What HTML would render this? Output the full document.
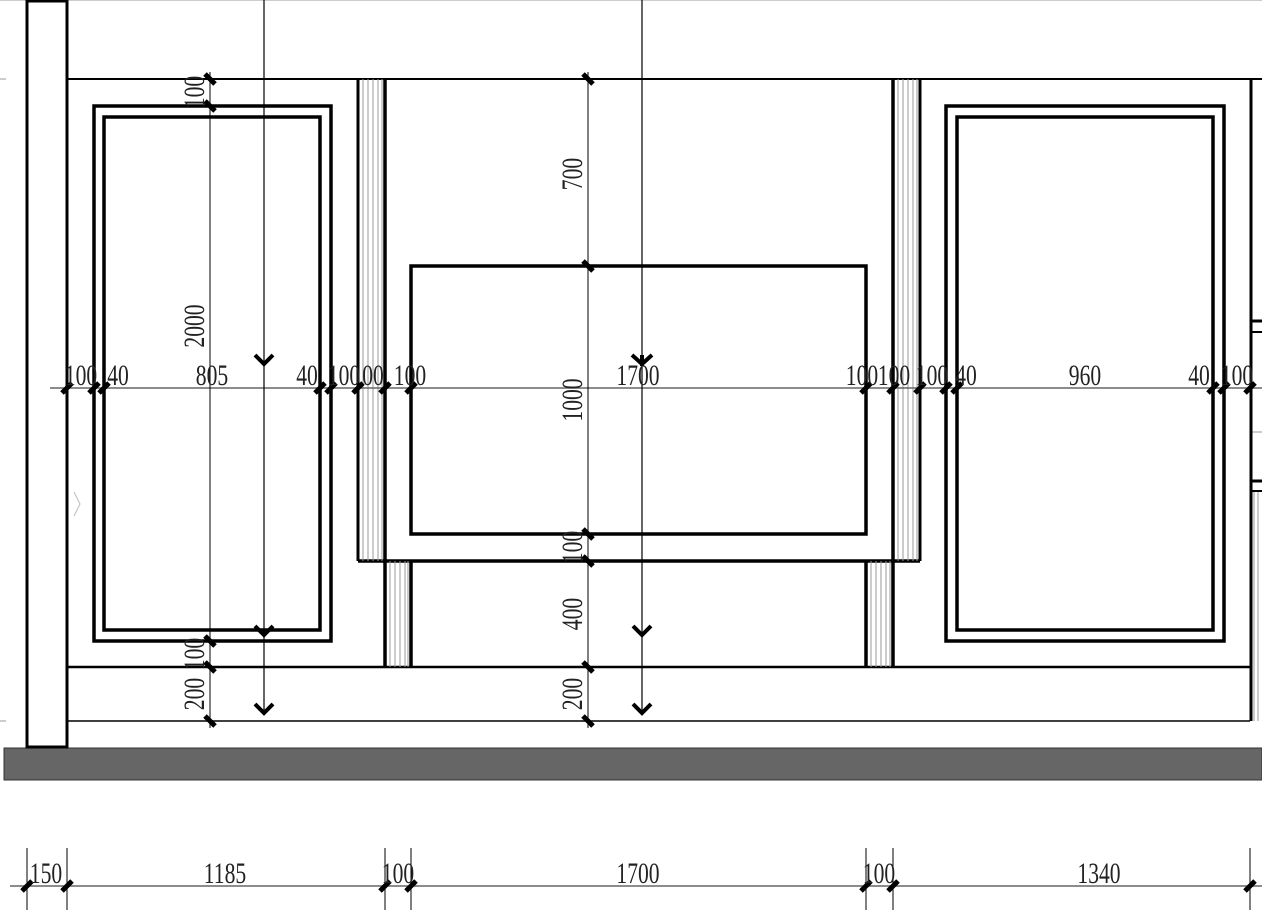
<!DOCTYPE html>
<html><head><meta charset="utf-8"><style>
html,body{margin:0;padding:0;background:#fff;width:1262px;height:910px;overflow:hidden}
svg{display:block}
text{font-family:"Liberation Serif","Noto Serif CJK SC",serif;font-size:30px;fill:#222;text-anchor:middle}
</style></head><body>
<svg width="1262" height="910" viewBox="0 0 1262 910" xmlns="http://www.w3.org/2000/svg">
<g fill="none" stroke="#000">
<line x1="0" y1="0.5" x2="1262" y2="0.5" stroke="#ccc" stroke-width="1"/>
<rect x="4" y="748" width="1258" height="32" fill="#666" stroke="#333" stroke-width="1"/>
<rect x="27" y="1" width="40" height="746" fill="#fff" stroke-width="3"/>
<line x1="67" y1="79" x2="1262" y2="79" stroke-width="2"/>
<line x1="67" y1="667" x2="1250" y2="667" stroke-width="2.5"/>
<line x1="67" y1="721" x2="1250" y2="721" stroke-width="1.5"/>
<line x1="0" y1="79" x2="6" y2="79" stroke-width="1" stroke="#999"/>
<line x1="0" y1="721" x2="6" y2="721" stroke-width="1" stroke="#999"/>
<rect x="94" y="106" width="237" height="535" stroke-width="3.5"/>
<rect x="104" y="117" width="216" height="513" stroke-width="3.5"/>
<rect x="946" y="106" width="278" height="535" stroke-width="3.5"/>
<rect x="957" y="117" width="256" height="513" stroke-width="3.5"/>
<rect x="411" y="266" width="455" height="268" stroke-width="3.5"/>
<line x1="358" y1="561" x2="920" y2="561" stroke-width="3.5"/>
<line x1="358" y1="79" x2="358" y2="561" stroke-width="3"/>
<line x1="385" y1="79" x2="385" y2="667" stroke-width="3.5"/>
<line x1="411" y1="561" x2="411" y2="667" stroke-width="3.5"/>
<g stroke="#999" stroke-width="1">
<line x1="363" y1="79" x2="363" y2="561"/><line x1="368" y1="79" x2="368" y2="561"/><line x1="373" y1="79" x2="373" y2="561"/><line x1="378" y1="79" x2="378" y2="561"/><line x1="382" y1="79" x2="382" y2="561"/>
<line x1="390" y1="561" x2="390" y2="667"/><line x1="395" y1="561" x2="395" y2="667"/><line x1="400" y1="561" x2="400" y2="667"/><line x1="405" y1="561" x2="405" y2="667"/><line x1="408" y1="561" x2="408" y2="667"/>
<line x1="898" y1="79" x2="898" y2="561"/><line x1="903" y1="79" x2="903" y2="561"/><line x1="908" y1="79" x2="908" y2="561"/><line x1="913" y1="79" x2="913" y2="561"/><line x1="917" y1="79" x2="917" y2="561"/>
<line x1="871" y1="561" x2="871" y2="667"/><line x1="876" y1="561" x2="876" y2="667"/><line x1="881" y1="561" x2="881" y2="667"/><line x1="886" y1="561" x2="886" y2="667"/><line x1="890" y1="561" x2="890" y2="667"/>
<line x1="1254" y1="492" x2="1254" y2="721"/><line x1="1258" y1="492" x2="1258" y2="721"/>
<line x1="1250" y1="432" x2="1262" y2="432"/>
</g>
<line x1="893" y1="79" x2="893" y2="667" stroke-width="3.5"/>
<line x1="920" y1="79" x2="920" y2="561" stroke-width="3"/>
<line x1="866" y1="561" x2="866" y2="667" stroke-width="3.5"/>
<line x1="1251" y1="79" x2="1251" y2="721" stroke-width="3"/>
<line x1="1251" y1="321" x2="1262" y2="321" stroke-width="3"/>
<line x1="1251" y1="332" x2="1262" y2="332" stroke-width="2"/>
<line x1="1251" y1="481" x2="1262" y2="481" stroke-width="3"/>
<line x1="1251" y1="491" x2="1262" y2="491" stroke-width="2"/>
<line x1="50" y1="388" x2="1262" y2="388" stroke="#666" stroke-width="1.5"/>
<line x1="210" y1="72" x2="210" y2="728" stroke-width="1"/>
<line x1="588" y1="72" x2="588" y2="728" stroke-width="1"/>
<line x1="264" y1="0" x2="264" y2="714" stroke-width="1.2"/>
<line x1="642" y1="0" x2="642" y2="714" stroke-width="1.2"/>
<line x1="10" y1="886" x2="1262" y2="886" stroke="#666" stroke-width="1.5"/>
<g stroke="#000" stroke-width="1">
<line x1="27" y1="848" x2="27" y2="910"/><line x1="67" y1="848" x2="67" y2="910"/>
<line x1="385" y1="848" x2="385" y2="910"/><line x1="411" y1="848" x2="411" y2="910"/>
<line x1="866" y1="848" x2="866" y2="910"/><line x1="893" y1="848" x2="893" y2="910"/>
<line x1="1250" y1="848" x2="1250" y2="910"/>
</g>
<g stroke-width="4">
<polyline points="255,355 264,364 273,355"/>
<polyline points="255,626 264,635 273,626"/>
<polyline points="255,704 264,713 273,704"/>
<polyline points="632,355 642,364 652,355"/>
<line x1="642" y1="355" x2="642" y2="366"/>
<polyline points="633,626 642,635 651,626"/>
<polyline points="633,704 642,713 651,704"/>
</g>
<g stroke-width="5">
<line x1="62" y1="393" x2="72" y2="383"/><line x1="89" y1="393" x2="99" y2="383"/><line x1="99" y1="393" x2="109" y2="383"/>
<line x1="315" y1="393" x2="325" y2="383"/><line x1="326" y1="393" x2="336" y2="383"/><line x1="353" y1="393" x2="363" y2="383"/>
<line x1="380" y1="393" x2="390" y2="383"/><line x1="406" y1="393" x2="416" y2="383"/><line x1="861" y1="393" x2="871" y2="383"/>
<line x1="888" y1="393" x2="898" y2="383"/><line x1="915" y1="393" x2="925" y2="383"/><line x1="941" y1="393" x2="951" y2="383"/>
<line x1="952" y1="393" x2="962" y2="383"/><line x1="1208" y1="393" x2="1218" y2="383"/><line x1="1219" y1="393" x2="1229" y2="383"/>
<line x1="1245" y1="393" x2="1255" y2="383"/>
<line x1="205" y1="74" x2="215" y2="84"/><line x1="205" y1="101" x2="215" y2="111"/><line x1="205" y1="636" x2="215" y2="646"/>
<line x1="205" y1="662" x2="215" y2="672"/><line x1="205" y1="716" x2="215" y2="726"/>
<line x1="583" y1="74" x2="593" y2="84"/><line x1="583" y1="261" x2="593" y2="271"/><line x1="583" y1="529" x2="593" y2="539"/>
<line x1="583" y1="556" x2="593" y2="566"/><line x1="583" y1="662" x2="593" y2="672"/><line x1="583" y1="716" x2="593" y2="726"/>
<line x1="22" y1="891" x2="32" y2="881"/><line x1="62" y1="891" x2="72" y2="881"/><line x1="380" y1="891" x2="390" y2="881"/>
<line x1="406" y1="891" x2="416" y2="881"/><line x1="861" y1="891" x2="871" y2="881"/><line x1="888" y1="891" x2="898" y2="881"/>
<line x1="1245" y1="891" x2="1255" y2="881"/>
</g>
<polyline points="74,492 80,504 74,516" stroke="#bbb" stroke-width="1"/>
</g>
<g>
<text transform="translate(81,385) scale(0.72,1)">100</text>
<text transform="translate(118,385) scale(0.72,1)">40</text>
<text transform="translate(212,385) scale(0.72,1)">805</text>
<text transform="translate(307,385) scale(0.72,1)">40</text>
<text transform="translate(344,385) scale(0.72,1)">100</text>
<text transform="translate(373,385) scale(0.72,1)">00</text>
<text transform="translate(410,385) scale(0.72,1)">100</text>
<text transform="translate(638,385) scale(0.72,1)">1700</text>
<text transform="translate(862,385) scale(0.72,1)">100</text>
<text transform="translate(894,385) scale(0.72,1)">100</text>
<text transform="translate(932,385) scale(0.72,1)">100</text>
<text transform="translate(966,385) scale(0.72,1)">40</text>
<text transform="translate(1085,385) scale(0.72,1)">960</text>
<text transform="translate(1199,385) scale(0.72,1)">40</text>
<text transform="translate(1237,385) scale(0.72,1)">100</text>
<text transform="translate(46,883) scale(0.72,1)">150</text>
<text transform="translate(225,883) scale(0.72,1)">1185</text>
<text transform="translate(398,883) scale(0.72,1)">100</text>
<text transform="translate(638,883) scale(0.72,1)">1700</text>
<text transform="translate(879,883) scale(0.72,1)">100</text>
<text transform="translate(1099,883) scale(0.72,1)">1340</text>
<text transform="translate(204,92) rotate(-90) scale(0.72,1)">100</text>
<text transform="translate(204,326) rotate(-90) scale(0.72,1)">2000</text>
<text transform="translate(204,654) rotate(-90) scale(0.72,1)">100</text>
<text transform="translate(204,694) rotate(-90) scale(0.72,1)">200</text>
<text transform="translate(582,174) rotate(-90) scale(0.72,1)">700</text>
<text transform="translate(582,400) rotate(-90) scale(0.72,1)">1000</text>
<text transform="translate(582,547) rotate(-90) scale(0.72,1)">100</text>
<text transform="translate(582,614) rotate(-90) scale(0.72,1)">400</text>
<text transform="translate(582,694) rotate(-90) scale(0.72,1)">200</text>
</g>
</svg>
</body></html>
